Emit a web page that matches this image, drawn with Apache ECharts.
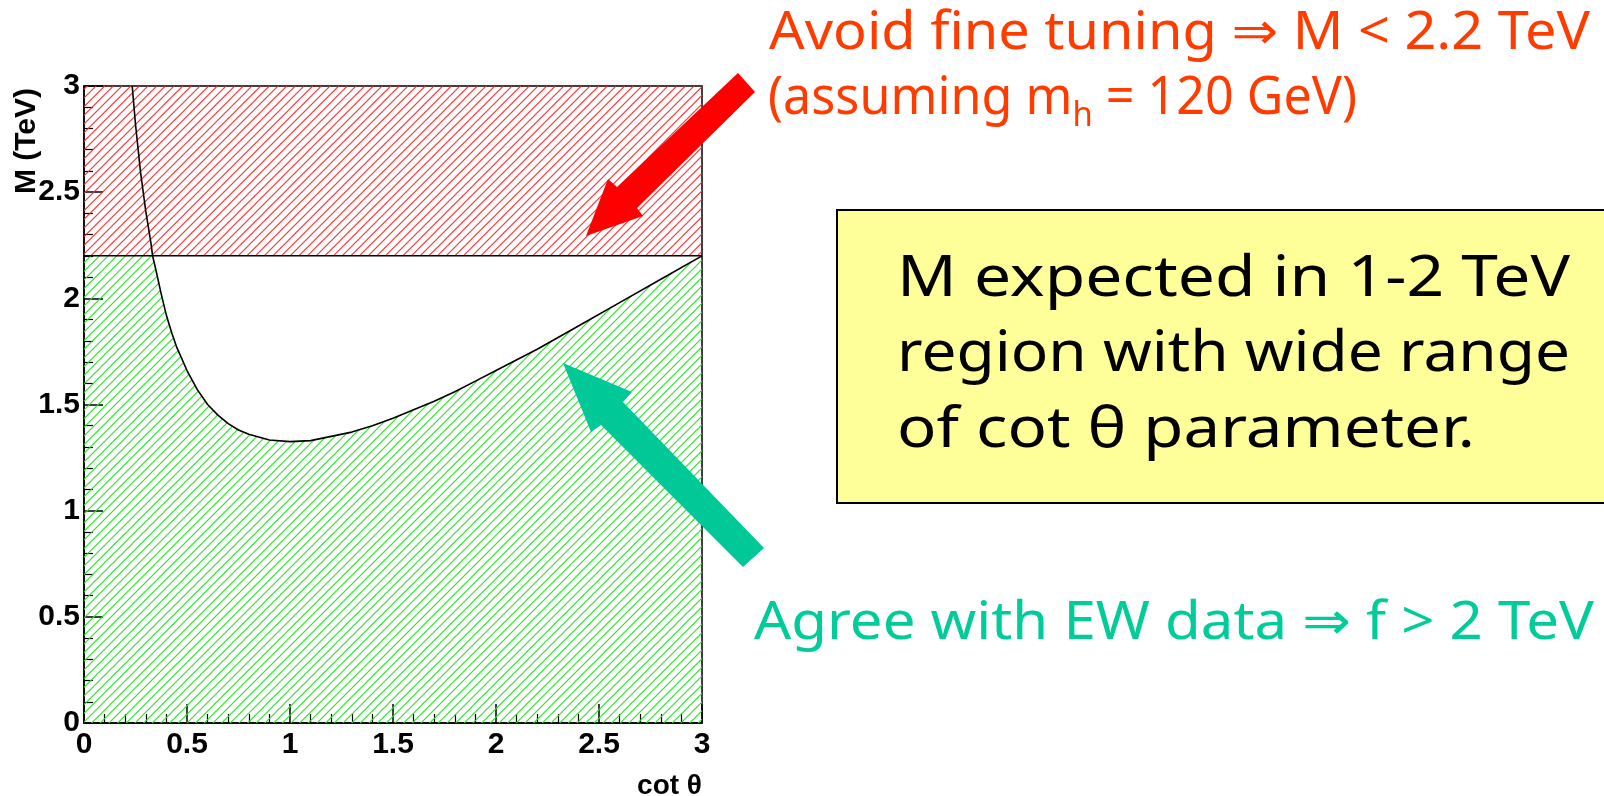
<!DOCTYPE html>
<html><head><meta charset="utf-8">
<script src="https://cdn.jsdelivr.net/npm/echarts@6/dist/echarts.min.js"></script>
<style>html,body{margin:0;padding:0;background:#fff}#chart{width:1604px;height:796px}</style>
</head><body><div id="chart"></div>
<script>
// ---- data ----
const cotTheta = [0.234, 0.25, 0.275, 0.3, 0.325, 0.333, 0.35, 0.375, 0.4, 0.425, 0.45, 0.5, 0.55, 0.6, 0.65, 0.7, 0.75, 0.8, 0.9, 1.0, 1.1, 1.2, 1.3, 1.4, 1.5, 1.6, 1.7, 1.8, 1.9, 2.0, 2.2, 2.4, 2.6, 2.8, 3.0];
const massTeV  = [3.0, 2.82, 2.59, 2.41, 2.26, 2.2, 2.13, 2.02, 1.92, 1.84, 1.77, 1.66, 1.57, 1.50, 1.45, 1.41, 1.38, 1.36, 1.333, 1.325, 1.33, 1.35, 1.37, 1.40, 1.435, 1.475, 1.515, 1.56, 1.61, 1.66, 1.76, 1.87, 1.98, 2.09, 2.2];
const fineTuningLimit = 2.2;
const massAxisMax = 3;
const xTickLabels = ['0', '0.5', '1', '1.5', '2', '2.5', '3'];
const yTickLabels = ['0', '0.5', '1', '1.5', '2', '2.5', '3'];

// ---- styling helpers ----
const AX_FONT = "'Liberation Sans', Arial, sans-serif";
const ANN_FONT = "'Noto Sans', 'DejaVu Sans', sans-serif";

function hatch(color) {
  const n = 3, T = 26;
  const c = document.createElement('canvas');
  c.width = T; c.height = T;
  const g = c.getContext('2d');
  g.strokeStyle = color; g.lineWidth = 1.1;
  for (let k = 0; k <= 2 * n; k++) {
    const c0 = k * T / n;
    g.beginPath();
    g.moveTo(-2, c0 + 2);
    g.lineTo(T + 2, c0 - T - 2);
    g.stroke();
  }
  return { image: c, repeat: 'repeat' };
}

const measureCtx = document.createElement('canvas').getContext('2d');
function textRow(parts, left, baseline, width, color) {
  let total = 0;
  parts.forEach(p => { measureCtx.font = p.size + 'px ' + ANN_FONT; p.w = measureCtx.measureText(p.t).width; total += p.w; });
  const s = width / total;
  let acc = 0;
  const els = [];
  parts.forEach(p => {
    els.push({
      type: 'text', z: 60, silent: true,
      x: left + acc * s, y: baseline + (p.dy || 0) - 0.30 * p.size, scaleX: s,
      style: { text: p.t, fontSize: p.size, fontFamily: ANN_FONT, fill: color, align: 'left', verticalAlign: 'middle' }
    });
    acc += p.w;
  });
  return els;
}

const ewAllowed = [[0, fineTuningLimit]].concat(
  cotTheta.map((c, i) => [c, massTeV[i]]).filter(p => p[1] <= fineTuningLimit));
const curve = cotTheta.map((c, i) => [c, massTeV[i]]);

const RED_TXT = '#ff3c00', TEAL_TXT = '#00cc99';

const graphics = [
  { type: 'rect', z: 40, silent: true, shape: { x: 837, y: 210, width: 800, height: 293 },
    style: { fill: '#ffff99', stroke: '#000', lineWidth: 2 } },
  { type: 'polygon', z: 50, silent: true,
    shape: { points: [[586, 236], [608, 179], [617, 187], [738, 73], [755, 92], [637, 208], [643, 216]] },
    style: { fill: '#ff0000' } },
  { type: 'polygon', z: 50, silent: true,
    shape: { points: [[563, 363], [632, 392], [623, 402], [764, 548], [743, 567], [601, 425], [591, 432]] },
    style: { fill: '#00c896' } }
]
.concat(textRow([{ t: 'Avoid fine tuning \u21D2 M < 2.2 TeV', size: 52 }], 769, 50, 821, RED_TXT))
.concat(textRow([{ t: '(assuming m', size: 52 }, { t: 'h', size: 34, dy: 12 }, { t: ' = 120 GeV)', size: 52 }], 768, 115, 589, RED_TXT))
.concat(textRow([{ t: 'M expected in 1-2 TeV', size: 56 }], 897, 297, 673, '#000'))
.concat(textRow([{ t: 'region with wide range', size: 56 }], 897, 372, 673, '#000'))
.concat(textRow([{ t: 'of cot \u03B8 parameter.', size: 56 }], 897, 448, 578, '#000'))
.concat(textRow([{ t: 'Agree with EW data \u21D2 f > 2 TeV', size: 53 }], 754, 640, 840, TEAL_TXT));

const axisCommon = {
  type: 'value', min: 0, max: 3, interval: 0.5,
  nameMoveOverlap: false,
  axisLine: { show: true, onZero: false, lineStyle: { color: '#000', width: 1.5 } },
  axisTick: { show: true, inside: true, length: 19, lineStyle: { color: '#000', width: 1.5 } },
  minorTick: { show: true, splitNumber: 5, length: 9, lineStyle: { color: '#000', width: 1.2 } },
  splitLine: { show: false },
  minorSplitLine: { show: false }
};

const chart = echarts.init(document.getElementById('chart'));
chart.setOption({
  animation: false,
  backgroundColor: '#fff',
  grid: { left: 84, right: 902, top: 86, bottom: 73, show: true, borderColor: '#000', borderWidth: 1.5,
          backgroundColor: 'transparent', containLabel: false, outerBoundsMode: 'none' },
  xAxis: Object.assign({}, axisCommon, {
    name: 'cot \u03B8', nameLocation: 'end', nameGap: 0,
    nameTextStyle: { fontFamily: AX_FONT, fontWeight: 'bold', fontSize: 28, color: '#000',
                     align: 'right', verticalAlign: 'top', padding: [49, 0, 0, 0] },
    axisLabel: { margin: 7, fontFamily: AX_FONT, fontWeight: 'bold', fontSize: 30, color: '#000',
                 showMinLabel: true, showMaxLabel: true,
                 formatter: v => xTickLabels[Math.round(v / 0.5)] }
  }),
  yAxis: Object.assign({}, axisCommon, {
    name: 'M (TeV)', nameLocation: 'end', nameGap: -2, nameRotate: 90,
    nameTextStyle: { fontFamily: AX_FONT, fontWeight: 'bold', fontSize: 30, color: '#000',
                     align: 'right', verticalAlign: 'bottom', padding: [0, 0, 42, 0] },
    axisLabel: { margin: 4, fontFamily: AX_FONT, fontWeight: 'bold', fontSize: 30, color: '#000',
                 showMinLabel: true, showMaxLabel: true,
                 formatter: v => yTickLabels[Math.round(v / 0.5)] }
  }),
  series: [
    { type: 'line', name: 'EW allowed', data: ewAllowed, showSymbol: false, silent: true, z: 1,
      lineStyle: { width: 0 }, areaStyle: { color: hatch('#22e622'), opacity: 1 } },
    { type: 'line', name: 'Fine-tuning limit', data: [[0, fineTuningLimit], [3, fineTuningLimit]],
      showSymbol: false, silent: true, z: 4, lineStyle: { color: '#000', width: 1.5 },
      markArea: { silent: true, itemStyle: { color: hatch('#ff2a2a'), opacity: 1 },
                  data: [[{ yAxis: fineTuningLimit }, { yAxis: massAxisMax }]] } },
    { type: 'line', name: 'Minimum M', data: curve, showSymbol: false, silent: true, z: 5,
      lineStyle: { color: '#000', width: 1.6 } }
  ],
  graphic: graphics
});
</script></body></html>
